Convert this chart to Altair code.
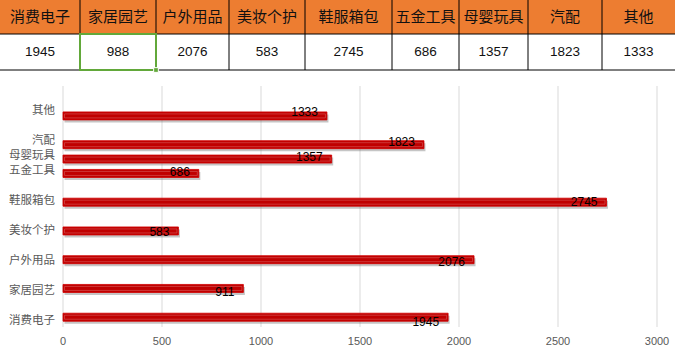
import altair as alt
import pandas as pd

# ---- data ----
categories = ["消费电子", "家居园艺", "户外用品", "美妆个护", "鞋服箱包", "五金工具", "母婴玩具", "汽配", "其他"]
table_values = [1945, 988, 2076, 583, 2745, 686, 1357, 1823, 1333]
bar_values = [1945, 911, 2076, 583, 2745, 686, 1357, 1823, 1333]
bar_positions = [1, 2, 3, 4, 5, 6, 6.5, 7, 8]
x_ticks = [0, 500, 1000, 1500, 2000, 2500, 3000]
selected = "家居园艺"

# ---- layout (pixels) ----
col_widths = [80, 76, 73, 76, 87, 67, 69, 74, 73]
edges = [0]
for w in col_widths:
    edges.append(edges[-1] + w)

W, H = 675, 355
HEADER_BOTTOM, ROW_BOTTOM = 34, 70
PLOT_LEFT, PLOT_RIGHT, PLOT_TOP, PLOT_BOTTOM = 63, 657, 86, 327

table_df = pd.DataFrame({
    "cat": categories,
    "val": table_values,
    "left": edges[:-1],
    "right": edges[1:],
})
table_df["mid"] = (table_df["left"] + table_df["right"]) / 2
table_df["htop"] = 0
table_df["hbot"] = HEADER_BOTTOM
table_df["rbot"] = ROW_BOTTOM
table_df["hmid"] = HEADER_BOTTOM / 2
table_df["rmid"] = (HEADER_BOTTOM + ROW_BOTTOM) / 2

lines_df = pd.DataFrame({"edge": edges[1:-1]})
sel_df = table_df[table_df["cat"] == selected]

bars_df = pd.DataFrame({"cat": categories, "value": bar_values, "pos": bar_positions})
ticks_df = pd.DataFrame({"tick": x_ticks})

# scales
tx = alt.Scale(domain=[0, W], range=[0, W], nice=False, zero=False)
ty = alt.Scale(domain=[0, H], range=[0, H], nice=False, zero=False)
bx = alt.Scale(domain=[0, 3000], range=[PLOT_LEFT, PLOT_RIGHT], nice=False, zero=False)
y_lo = 1 - (PLOT_BOTTOM - 322) / 30
y_hi = 1 + (322 - PLOT_TOP) / 30
by = alt.Scale(domain=[y_lo, y_hi], range=[PLOT_BOTTOM, PLOT_TOP], nice=False, zero=False)

CJK = "Noto Sans CJK SC"

# ---- table ----
header = alt.Chart(table_df).mark_rect(color="#ED7D31").encode(
    x=alt.X("left:Q", scale=tx, axis=None), x2="right:Q",
    y=alt.Y("htop:Q", scale=ty, axis=None), y2="hbot:Q")
rowbg = alt.Chart(table_df).mark_rect(color="white").encode(
    x=alt.X("left:Q", scale=tx, axis=None), x2="right:Q",
    y=alt.Y("hbot:Q", scale=ty, axis=None), y2="rbot:Q")
vlines = alt.Chart(lines_df).mark_rule(color="black", strokeWidth=1).encode(
    x=alt.X("edge:Q", scale=tx, axis=None),
    y=alt.value(0), y2=alt.value(ROW_BOTTOM))
hlines = alt.Chart(pd.DataFrame({"yy": [HEADER_BOTTOM, ROW_BOTTOM]})).mark_rule(
    color="black", strokeWidth=1).encode(
    y=alt.Y("yy:Q", scale=ty, axis=None), x=alt.value(0), x2=alt.value(W))
htext = alt.Chart(table_df).mark_text(font=CJK, fontSize=15, color="#111111",
                                      baseline="middle").encode(
    x=alt.X("mid:Q", scale=tx, axis=None), y=alt.Y("hmid:Q", scale=ty, axis=None),
    text="cat:N")
vtext = alt.Chart(table_df).mark_text(font="Liberation Sans", fontSize=13.5,
                                      color="#111111", baseline="middle").encode(
    x=alt.X("mid:Q", scale=tx, axis=None), y=alt.Y("rmid:Q", scale=ty, axis=None),
    text="val:Q")
selbox = alt.Chart(sel_df).mark_rect(filled=False, stroke="#62A83A", strokeWidth=2).encode(
    x=alt.X("left:Q", scale=tx, axis=None), x2="right:Q",
    y=alt.Y("hbot:Q", scale=ty, axis=None), y2="rbot:Q")
handle = alt.Chart(sel_df).mark_square(size=22, color="#62A83A", stroke="white",
                                       strokeWidth=1, opacity=1).encode(
    x=alt.X("right:Q", scale=tx, axis=None), y=alt.Y("rbot:Q", scale=ty, axis=None))

# ---- bar chart ----
grid = alt.Chart(ticks_df).mark_rule(color="#D9D9D9", strokeWidth=1).encode(
    x=alt.X("tick:Q", scale=bx, axis=None),
    y=alt.value(PLOT_TOP), y2=alt.value(PLOT_BOTTOM))
xlabels = alt.Chart(ticks_df).mark_text(fontSize=11, color="#595959",
                                        font="Liberation Sans", baseline="middle").encode(
    x=alt.X("tick:Q", scale=bx, axis=None), y=alt.value(342), text="tick:Q")
shadow = alt.Chart(bars_df).mark_bar(orient="horizontal", size=8, color="#7F7F7F",
                                     opacity=0.45, yOffset=2.5, xOffset=1.5,
                                     x2Offset=1.5).encode(
    x=alt.X("value:Q", scale=bx, axis=None), x2=alt.datum(0),
    y=alt.Y("pos:Q", scale=by, axis=None))
bars = alt.Chart(bars_df).mark_bar(orient="horizontal", size=8, color="#C00000",
                                   stroke="#D00000", strokeWidth=0.8).encode(
    x=alt.X("value:Q", scale=bx, axis=None), x2=alt.datum(0),
    y=alt.Y("pos:Q", scale=by, axis=None))
inner = alt.Chart(bars_df).mark_bar(orient="horizontal", size=4, filled=False,
                                    stroke="white", strokeWidth=0.6, opacity=0.35,
                                    xOffset=-1.5, x2Offset=1.5).encode(
    x=alt.X("value:Q", scale=bx, axis=None), x2=alt.datum(0),
    y=alt.Y("pos:Q", scale=by, axis=None))
vlabels = alt.Chart(bars_df).mark_text(align="right", dx=-9, baseline="middle",
                                       fontSize=12, color="black",
                                       font="Liberation Sans").encode(
    x=alt.X("value:Q", scale=bx, axis=None), y=alt.Y("pos:Q", scale=by, axis=None),
    text="value:Q")
ylabels = alt.Chart(bars_df).mark_text(align="right", baseline="middle", dy=-1,
                                       fontSize=11.5, color="#595959", font=CJK).encode(
    x=alt.value(55), y=alt.Y("pos:Q", scale=by, axis=None), text="cat:N")

chart = alt.layer(
    grid, xlabels, shadow, bars, inner, vlabels, ylabels,
    header, rowbg, vlines, hlines, htext, vtext, selbox, handle,
).resolve_scale(x="independent", y="independent").properties(
    width=W, height=H, padding=0, autosize=alt.AutoSizeParams(type="none"),
    background="white",
).configure_view(stroke=None)

chart.save("out.html", embed_options={"renderer": "svg", "actions": False})
